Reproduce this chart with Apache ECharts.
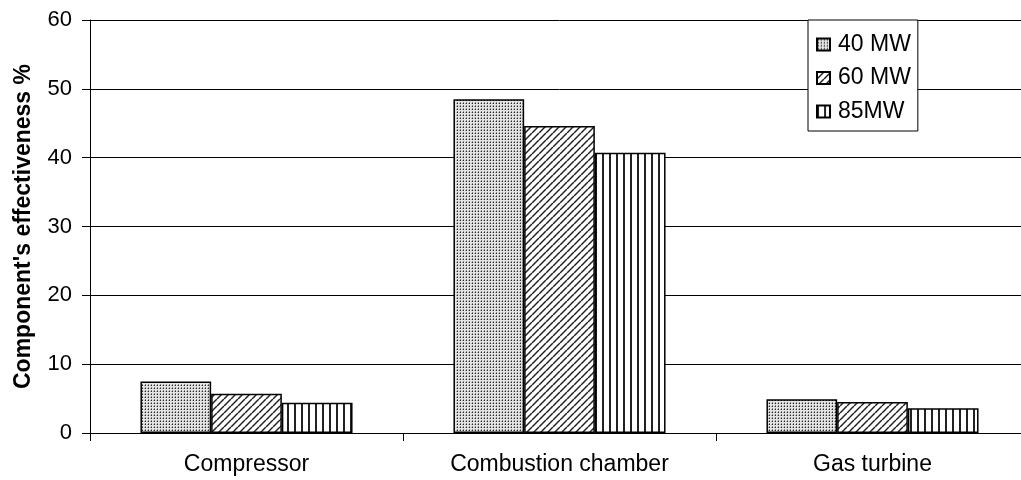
<!DOCTYPE html>
<html>
<head>
<meta charset="utf-8">
<script src="https://cdn.jsdelivr.net/npm/echarts@6/dist/echarts.min.js"></script>
<style>
html,body{margin:0;padding:0;background:#fff;overflow:hidden;}
#chart{width:1030px;height:480px;}
</style>
</head>
<body>
<div id="chart"></div>
<script>
const categories = ['Compressor', 'Combustion chamber', 'Gas turbine'];
const seriesNames = ['40 MW', '60 MW', '85MW'];
const values40 = [7.5, 48.5, 4.9];
const values60 = [5.7, 44.6, 4.5];
const values85 = [4.4, 40.7, 3.6];
const yTicks = [0, 10, 20, 30, 40, 50, 60];

function makePattern(kind) {
  const c = document.createElement('canvas');
  const ctx = c.getContext('2d');
  if (kind === 'dots') {
    c.width = 3; c.height = 3;
    ctx.fillStyle = '#e4e4e4'; ctx.fillRect(0, 0, 3, 3);
    ctx.fillStyle = '#2a2a2a'; ctx.fillRect(1, 1, 1, 1);
    ctx.fillStyle = '#888'; ctx.fillRect(1, 0, 1, 1);
    ctx.fillStyle = '#aaa'; ctx.fillRect(0, 1, 1, 1);
  } else if (kind === 'diag') {
    c.width = 7; c.height = 7;
    ctx.fillStyle = '#fff'; ctx.fillRect(0, 0, 7, 7);
    ctx.strokeStyle = '#222'; ctx.lineWidth = 1.5;
    for (let k = -7; k <= 14; k += 7) {
      ctx.beginPath(); ctx.moveTo(k, 7); ctx.lineTo(k + 7, 0); ctx.stroke();
    }
  } else {
    c.width = 7; c.height = 4;
    ctx.fillStyle = '#fff'; ctx.fillRect(0, 0, 7, 4);
    ctx.fillStyle = '#222'; ctx.fillRect(0, 0, 2, 4);
  }
  return { image: c, repeat: 'repeat' };
}

const patterns = [makePattern('dots'), makePattern('diag'), makePattern('vert')];
const dataSets = [values40, values60, values85];

const chart = echarts.init(document.getElementById('chart'), null, { renderer: 'canvas' });
const font = 'Liberation Sans, Arial, sans-serif';
chart.setOption({
  animation: false,
  backgroundColor: '#fff',
  grid: { left: 90, right: 1, top: 20, bottom: 47, containLabel: false },
  legend: {
    orient: 'vertical',
    left: 808, top: 20,
    backgroundColor: '#fff',
    borderColor: '#000', borderWidth: 1,
    padding: [13, 7, 8, 8],
    itemGap: 10.5,
    itemWidth: 13, itemHeight: 12,
    icon: 'rect',
    textStyle: { fontFamily: font, fontSize: 23, color: '#000', padding: [0, 0, 0, 3] },
    data: seriesNames
  },
  xAxis: {
    type: 'category',
    data: categories,
    axisLine: { lineStyle: { color: '#000', width: 1 } },
    axisTick: { show: true, length: 8, alignWithLabel: false, lineStyle: { color: '#000' } },
    axisLabel: { fontFamily: font, fontSize: 23, color: '#000', margin: 20 },
    splitLine: { show: false }
  },
  yAxis: {
    type: 'value',
    min: yTicks[0], max: yTicks[yTicks.length - 1], interval: 10,
    name: "Component's effectiveness %",
    nameLocation: 'middle',
    nameGap: 55,
    nameTextStyle: { fontFamily: font, fontSize: 23, fontWeight: 'bold', color: '#000' },
    axisLine: { show: true, lineStyle: { color: '#000', width: 1 } },
    axisTick: { show: true, length: 8, lineStyle: { color: '#000' } },
    axisLabel: { fontFamily: font, fontSize: 22, color: '#000', margin: 18 },
    splitLine: { show: true, lineStyle: { color: '#000', width: 1 } }
  },
  series: seriesNames.map((n, i) => ({
    name: n,
    type: 'bar',
    data: dataSets[i],
    barWidth: 70.7,
    barGap: '0%',
    itemStyle: { color: patterns[i], borderColor: '#000', borderWidth: 1.5 }
  }))
});
</script>
</body>
</html>
